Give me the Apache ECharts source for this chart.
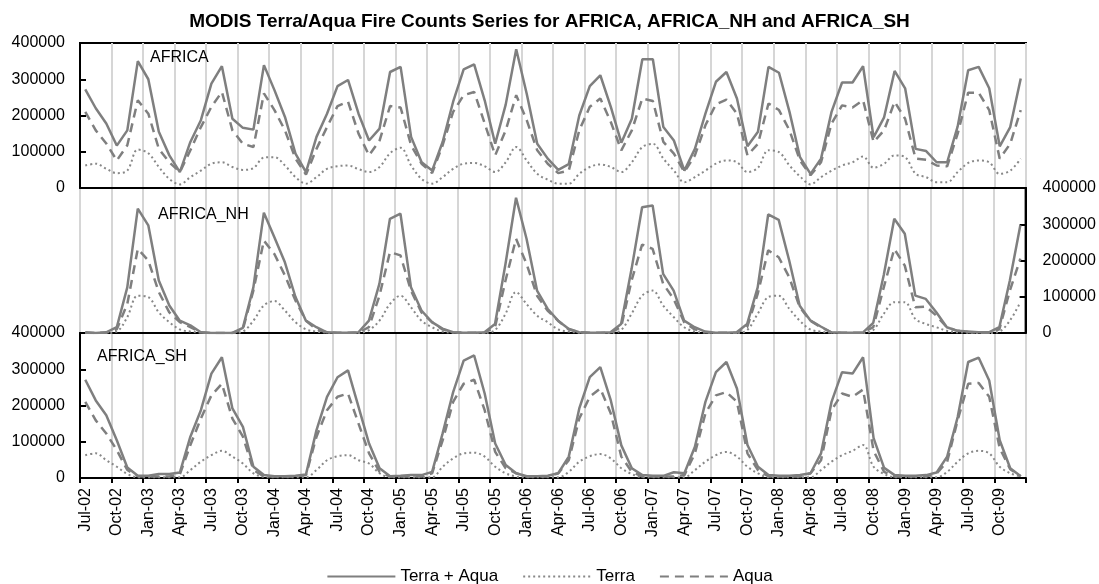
<!DOCTYPE html>
<html>
<head>
<meta charset="utf-8">
<script src="https://cdn.jsdelivr.net/npm/echarts@6/dist/echarts.min.js"></script>
<style>
html,body{margin:0;padding:0;background:#fff;}
#chart{width:1099px;height:584px;}
</style>
</head>
<body>
<div id="chart"></div>
<script>
var months = ["Jul-02","Aug-02","Sep-02","Oct-02","Nov-02","Dec-02",
"Jan-03","Feb-03","Mar-03","Apr-03","May-03","Jun-03","Jul-03","Aug-03","Sep-03","Oct-03","Nov-03","Dec-03",
"Jan-04","Feb-04","Mar-04","Apr-04","May-04","Jun-04","Jul-04","Aug-04","Sep-04","Oct-04","Nov-04","Dec-04",
"Jan-05","Feb-05","Mar-05","Apr-05","May-05","Jun-05","Jul-05","Aug-05","Sep-05","Oct-05","Nov-05","Dec-05",
"Jan-06","Feb-06","Mar-06","Apr-06","May-06","Jun-06","Jul-06","Aug-06","Sep-06","Oct-06","Nov-06","Dec-06",
"Jan-07","Feb-07","Mar-07","Apr-07","May-07","Jun-07","Jul-07","Aug-07","Sep-07","Oct-07","Nov-07","Dec-07",
"Jan-08","Feb-08","Mar-08","Apr-08","May-08","Jun-08","Jul-08","Aug-08","Sep-08","Oct-08","Nov-08","Dec-08",
"Jan-09","Feb-09","Mar-09","Apr-09","May-09","Jun-09","Jul-09","Aug-09","Sep-09","Oct-09","Nov-09","Dec-09"];

var yTicks = [0, 100000, 200000, 300000, 400000];
var panelNames = ["AFRICA", "AFRICA_NH", "AFRICA_SH"];
var seriesNames = ["Terra + Aqua", "Terra", "Aqua"];

// values in thousands of fire counts
var afTotal = [272,220,178,117,159,350,300,155,90,44,
127,187,288,336,191,166,161,339,270,196,
95,44,141,205,281,298,205,131,164,320,
334,141,71,48,127,238,327,341,242,122,
230,383,260,122,81,50,66,200,281,311,
224,125,191,355,355,168,131,48,108,205,
293,320,247,115,155,334,318,210,85,39,
81,210,291,291,336,140,195,323,275,108,
102,71,71,170,325,334,275,115,168,302];
var afTerra = [62,67,53,41,48,106,96,58,25,10,
30,48,67,71,58,50,55,84,85,62,
30,12,30,53,60,62,52,44,58,96,
111,62,25,12,30,53,67,69,60,44,
71,113,76,39,23,12,12,39,58,65,
58,44,71,113,122,81,48,16,30,48,
67,76,71,44,56,104,99,62,32,10,
30,48,62,71,87,56,67,90,85,39,
30,16,16,44,69,76,71,39,48,81];
var afAqua = [210,159,123,76,118,242,205,108,71,44,
104,168,224,265,159,122,113,261,215,159,
81,37,108,168,226,238,150,90,131,226,
222,118,67,41,118,210,256,265,178,90,
159,256,187,104,67,41,48,159,224,247,
182,104,159,247,240,127,95,44,90,173,
231,244,205,90,122,233,215,159,76,35,
71,178,228,222,242,127,159,238,191,81,
78,62,60,150,263,263,215,81,122,215];

var nhTotal = [2,0,2,16,126,343,297,145,76,34,
21,2,0,0,0,14,126,332,264,195,
100,34,16,2,1,1,2,34,136,315,
329,126,62,30,12,2,1,1,2,25,
191,373,260,117,67,34,12,2,1,1,
2,25,177,347,352,163,117,34,16,4,
1,1,2,25,126,327,312,200,75,35,
18,2,1,1,1,28,160,315,274,103,
94,57,16,6,4,2,2,16,145,297];
var nhTerra = [0,0,0,4,44,103,99,57,30,10,
4,1,0,0,0,4,34,76,88,62,
30,10,4,1,0,0,0,8,34,80,
103,71,34,16,4,1,0,0,0,8,
53,113,80,48,30,10,4,1,0,0,
0,8,53,103,117,76,44,16,4,1,
0,0,0,8,53,99,103,67,34,10,
4,1,0,0,0,8,53,85,85,39,
25,16,6,2,1,0,0,4,34,85];
var nhAqua = [1,0,1,10,80,232,200,113,57,30,
16,2,0,0,0,10,117,255,218,159,
90,34,10,2,1,1,1,16,103,223,
214,117,57,30,10,2,1,1,1,16,
145,260,191,103,62,34,10,2,1,1,
1,16,145,244,232,136,94,30,10,2,
1,1,1,16,108,228,209,154,71,34,
16,2,1,1,1,16,126,232,186,71,
73,48,16,6,3,1,1,10,117,205];

var shTotal = [271,214,173,104,29,6,6,11,11,15,
114,187,288,333,192,141,31,8,5,5,
6,10,132,224,278,297,196,95,27,5,
6,8,8,17,123,237,324,338,233,95,
36,13,5,5,6,13,59,192,278,306,
214,90,27,8,6,6,16,13,86,210,
292,320,247,91,31,8,6,6,8,13,
68,210,292,288,333,110,28,8,6,6,
8,15,59,168,320,332,269,104,27,5];
var shTerra = [63,68,49,31,11,2,2,2,2,2,
22,45,63,75,59,40,13,3,2,2,
2,2,22,49,60,63,49,40,13,2,
2,2,2,2,31,54,68,70,59,31,
13,4,2,2,2,2,17,45,60,66,
54,27,11,2,2,2,2,2,22,45,
63,72,59,31,13,2,2,2,2,2,
22,45,63,75,91,31,11,2,2,2,
2,2,17,45,68,75,68,31,13,4];
var shAqua = [210,159,123,77,22,5,4,4,4,10,
91,164,228,260,164,114,22,4,4,4,
4,8,114,187,224,233,150,68,17,4,
4,4,4,13,104,210,260,271,187,72,
27,13,4,4,4,13,49,164,224,247,
178,59,17,4,4,4,4,8,68,178,
228,237,210,68,22,4,4,4,4,13,
49,187,233,224,244,75,17,4,4,4,
4,13,45,160,260,262,224,82,24,5];

function k(arr){ return arr.map(function(v){ return v * 1000; }); }

var FONT = "'Liberation Sans', Arial, sans-serif";
var GREY = '#7f7f7f';

var panels = [
  {total: afTotal, terra: afTerra, aqua: afAqua},
  {total: nhTotal, terra: nhTerra, aqua: nhAqua},
  {total: shTotal, terra: shTerra, aqua: shAqua}
];

var grids = [], xAxes = [], yAxes = [], series = [];
var tops = [43, 188, 333];
for (var p = 0; p < 3; p++) {
  grids.push({left: 80, right: 73, top: tops[p], height: 145, show: true,
    borderColor: '#000', borderWidth: 2, backgroundColor: 'rgba(0,0,0,0)'});
  var last = (p === 2);
  xAxes.push({
    type: 'category', gridIndex: p, data: months, boundaryGap: true,
    axisLine: {show: true, lineStyle: {color: '#000', width: 2}},
    axisTick: {show: last, interval: 2, length: 5, lineStyle: {color: '#000', width: 2}},
    axisLabel: {show: last, interval: 2, rotate: 90, fontSize: 16, color: '#000', fontFamily: FONT, margin: 10},
    splitLine: {show: true, interval: 2, lineStyle: {color: '#d6d6d6', width: 2}}
  });
  yAxes.push({
    type: 'value', gridIndex: p, min: yTicks[0], max: yTicks[yTicks.length - 1], interval: 100000,
    position: p === 1 ? 'right' : 'left',
    axisLine: {show: true, lineStyle: {color: '#000', width: 2}},
    axisTick: {show: true, inside: true, length: 6, lineStyle: {color: '#000', width: 2}},
    axisLabel: {show: true, fontSize: 16, color: '#000', fontFamily: FONT, margin: p === 1 ? 17 : 15,
      formatter: function(v){ return String(v); }},
    splitLine: {show: false}
  });
  var d = panels[p];
  series.push({name: seriesNames[0], type: 'line', xAxisIndex: p, yAxisIndex: p, data: k(d.total),
    symbol: 'none', lineStyle: {color: GREY, width: 2.5, type: 'solid'}, itemStyle: {color: GREY}, z: 4});
  series.push({name: seriesNames[1], type: 'line', xAxisIndex: p, yAxisIndex: p, data: k(d.terra),
    symbol: 'none', smooth: 0.35, lineStyle: {color: '#888', width: 2, type: [2, 3]}, itemStyle: {color: '#888'}, z: 3});
  series.push({name: seriesNames[2], type: 'line', xAxisIndex: p, yAxisIndex: p, data: k(d.aqua),
    symbol: 'none', lineStyle: {color: GREY, width: 2.5, type: [9, 6]}, itemStyle: {color: GREY}, z: 3});
}

var chart = echarts.init(document.getElementById('chart'), null, {renderer: 'canvas'});
chart.setOption({
  animation: false,
  backgroundColor: '#fff',
  title: {text: 'MODIS Terra/Aqua Fire Counts Series for AFRICA, AFRICA_NH and AFRICA_SH',
    left: 'center', top: 7, textStyle: {fontSize: 19, fontWeight: 'bold', color: '#000', fontFamily: FONT}},
  legend: {data: seriesNames, bottom: -6, left: 'center', itemWidth: 68, itemHeight: 10, itemGap: 24,
    itemStyle: {opacity: 0, borderWidth: 0},
    textStyle: {fontSize: 17, color: '#000', fontFamily: FONT}},
  grid: grids, xAxis: xAxes, yAxis: yAxes, series: series,
  graphic: [
    {type: 'text', left: 150, top: 50, z: 100, style: {text: panelNames[0], font: '16px ' + FONT, fill: '#000'}},
    {type: 'text', left: 158, top: 207, z: 100, style: {text: panelNames[1], font: '16px ' + FONT, fill: '#000'}},
    {type: 'text', left: 97, top: 349, z: 100, style: {text: panelNames[2], font: '16px ' + FONT, fill: '#000'}}
  ]
});
</script>
</body>
</html>
